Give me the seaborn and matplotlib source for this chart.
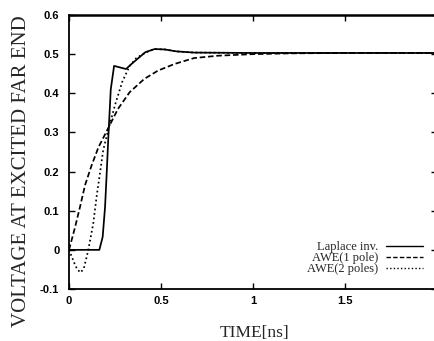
import matplotlib
matplotlib.use("Agg")
import matplotlib.pyplot as plt
import seaborn as sns
import pandas as pd
from matplotlib.lines import Line2D

# ---- data ----
t_lap = [0, 0.165, 0.183, 0.196, 0.205, 0.214, 0.227, 0.245, 0.31, 0.34, 0.415, 0.465, 0.52, 0.585, 0.68, 1.0, 1.5, 2.0]
v_lap = [0, 0, 0.033, 0.11, 0.197, 0.29, 0.41, 0.47, 0.462, 0.475, 0.505, 0.513, 0.512, 0.507, 0.504, 0.503, 0.503, 0.503]

t_1p = [0, 0.033, 0.06, 0.087, 0.123, 0.16, 0.212, 0.266, 0.33, 0.41, 0.484, 0.574, 0.68, 0.81, 1.0, 1.2, 1.5, 2.0]
v_1p = [0, 0.058, 0.11, 0.165, 0.216, 0.262, 0.31, 0.36, 0.403, 0.437, 0.458, 0.475, 0.49, 0.496, 0.5, 0.502, 0.503, 0.503]

t_2p = [0, 0.03, 0.045, 0.063, 0.08, 0.095, 0.105, 0.132, 0.15, 0.168, 0.186, 0.21, 0.25, 0.29, 0.33, 0.366, 0.42, 0.465, 0.52, 0.585, 0.68, 1.0, 2.0]
v_2p = [0, -0.035, -0.05, -0.058, -0.048, -0.02, 0, 0.068, 0.136, 0.195, 0.255, 0.3, 0.37, 0.43, 0.47, 0.49, 0.505, 0.513, 0.512, 0.507, 0.504, 0.503, 0.503]

series_labels = ["Laplace inv.", "AWE(1 pole)", "AWE(2 poles)"]
x_ticks = [0, 0.5, 1, 1.5, 2]
x_tick_labels = ["0", "0.5", "1", "1.5", "2"]
y_ticks = [-0.1, 0, 0.1, 0.2, 0.3, 0.4, 0.5, 0.6]
y_tick_labels = ["-0.1", "0", "0.1", "0.2", "0.3", "0.4", "0.5", "0.6"]

sns.set_style("ticks")
plt.rcParams["font.family"] = ["DejaVu Sans"]

fig = plt.figure(figsize=(4.34, 3.41), dpi=100)
ax = fig.add_axes([69 / 434, 52 / 341, 368 / 434, 274 / 341])

styles = [dict(linestyle="-"), dict(linestyle=(0, (3.2, 1.6))), dict(linestyle=(0, (1, 1.6)))]
data = [(t_lap, v_lap), (t_1p, v_1p), (t_2p, v_2p)]
for (t, v), st in zip(data, styles):
    df = pd.DataFrame({"t": t, "v": v})
    sns.lineplot(data=df, x="t", y="v", ax=ax, color="black", linewidth=1.25, **st)

ax.set_xlim(0, 2)
ax.set_ylim(-0.1, 0.6)
ax.set_xticks(x_ticks)
ax.set_xticklabels(x_tick_labels)
ax.set_yticks(y_ticks)
ax.set_yticklabels(y_tick_labels)
for lab in ax.get_xticklabels() + ax.get_yticklabels():
    lab.set_family("Liberation Sans")
    lab.set_fontweight("bold")
    lab.set_fontsize(8)
ax.tick_params(direction="in", length=4, width=1, top=True, right=True, pad=5, colors="black")
ax.tick_params(axis="y", pad=7)
for s in ax.spines.values():
    s.set_visible(True)
    s.set_color("black")
    s.set_linewidth(1.3)
ax.spines["top"].set_linewidth(1.8)

ax.set_xlabel("TIME[ns]", family="Liberation Serif", fontsize=12.5)
ax.set_ylabel("VOLTAGE AT EXCITED FAR END", family="Liberation Serif", fontsize=15)
ax.xaxis.set_label_coords(186 / 368, -36 / 274)
ax.yaxis.set_label_coords(-38 / 368, (289 - 171) / 274)

handles = [Line2D([], [], color="black", linewidth=1.0, **st) for st in styles]
leg = ax.legend(handles, series_labels, loc="lower right", bbox_to_anchor=(423 / 434, 66 / 341),
                bbox_transform=fig.transFigure, frameon=False, markerfirst=False,
                prop={"family": "Liberation Serif", "size": 9}, handlelength=3.0,
                handletextpad=0.6, labelspacing=-0.08, borderpad=0, borderaxespad=0)

fig.savefig("out.png", dpi=100, facecolor="white")
